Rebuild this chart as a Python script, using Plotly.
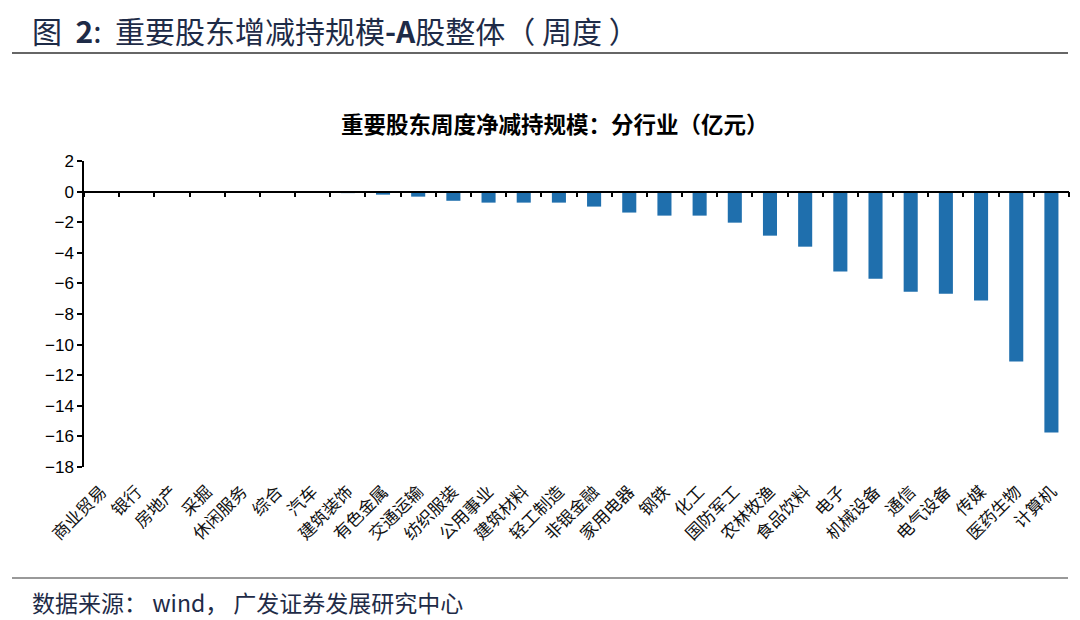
import plotly.graph_objects as go

categories = ["商业贸易", "银行", "房地产", "采掘", "休闲服务", "综合", "汽车", "建筑装饰",
              "有色金属", "交通运输", "纺织服装", "公用事业", "建筑材料", "轻工制造",
              "非银金融", "家用电器", "钢铁", "化工", "国防军工", "农林牧渔", "食品饮料",
              "电子", "机械设备", "通信", "电气设备", "传媒", "医药生物", "计算机"]
values = [0, 0, 0, 0, 0, 0, 0, -0.1, -0.2, -0.33, -0.6, -0.72, -0.72, -0.72,
          -0.98, -1.37, -1.57, -1.57, -2.03, -2.88, -3.6, -5.23, -5.69, -6.54,
          -6.67, -7.12, -11.1, -15.75]
y_ticks = list(range(-18, 3, 2))

W, H = 1080, 620
L, R, T, B = 84, 1069, 161, 467


def px(x):
    return (x - L) / (R - L)


def py(y):
    return (B - y) / (B - T)


fig = go.Figure()
fig.add_trace(go.Bar(x=categories, y=values, marker=dict(color="#1f6fad", line=dict(width=0)),
                     xaxis="x", yaxis="y", showlegend=False))
fig.add_trace(go.Scatter(x=categories, y=values, mode="markers", marker=dict(opacity=0),
                         xaxis="x2", yaxis="y", showlegend=False, hoverinfo="skip"))

fig.update_layout(
    width=W, height=H,
    margin=dict(l=L, r=W - R, t=T, b=H - B, autoexpand=False),
    paper_bgcolor="white", plot_bgcolor="white",
    bargap=0.6,
    font=dict(family="Noto Sans CJK SC, Liberation Sans, sans-serif", color="black"),
    xaxis=dict(type="category", categoryorder="array", categoryarray=categories,
               tickangle=-45, showline=False, ticks="outside", ticklen=7,
               tickcolor="rgba(0,0,0,0)", showgrid=False, automargin=False,
               tickfont=dict(size=17, family="Noto Sans CJK SC", color="#111"),
               range=[-0.5, len(categories) - 0.5]),
    xaxis2=dict(type="category", categoryorder="array", categoryarray=categories,
                overlaying="x", anchor="free", position=(0 - y_ticks[0]) / (y_ticks[-1] - y_ticks[0]),
                showline=True, linecolor="black", linewidth=1.5,
                ticks="outside", ticklen=5, tickwidth=1.5, tickcolor="black",
                tickson="boundaries", showticklabels=False, showgrid=False,
                range=[-0.5, len(categories) - 0.5]),
    yaxis=dict(range=[y_ticks[0], y_ticks[-1]], tickvals=y_ticks, showgrid=False,
               zeroline=False, showline=True, linecolor="black", linewidth=1.5,
               ticks="outside", ticklen=5, tickwidth=1.5, tickcolor="black", automargin=False,
               tickfont=dict(size=17, family="Liberation Sans", color="black")),
)

# header
fig.add_annotation(xref="paper", yref="paper", x=px(30), y=py(30), xanchor="left", yanchor="middle",
                   text="图  <b>2</b>:  重要股东增减持规模<b>-A</b>股整体（ 周度 ）", showarrow=False,
                   font=dict(size=30, color="#1e2b47", family="Noto Sans CJK SC"))
fig.add_shape(type="line", xref="paper", yref="paper", x0=px(12), x1=px(1068), y0=py(53), y1=py(53),
              line=dict(color="#333", width=1.5))
# chart title
fig.add_annotation(xref="paper", yref="paper", x=px(555), y=py(123), xanchor="center", yanchor="middle",
                   text="<b>重要股东周度净减持规模：分行业（亿元）</b>", showarrow=False,
                   font=dict(size=22.5, color="black", family="Noto Sans CJK SC"))
# footer
fig.add_shape(type="line", xref="paper", yref="paper", x0=px(12), x1=px(1068), y0=py(578), y1=py(578),
              line=dict(color="#777", width=1.5))
fig.add_annotation(xref="paper", yref="paper", x=px(30), y=py(602), xanchor="left", yanchor="middle",
                   text="数据来源： wind， 广发证券发展研究中心", showarrow=False,
                   font=dict(size=23, color="#1e2b47", family="Noto Sans CJK SC"))

fig.write_html("out.html", config={"displayModeBar": False},
               post_script="document.body.style.margin='0';document.body.style.overflow='hidden';")
